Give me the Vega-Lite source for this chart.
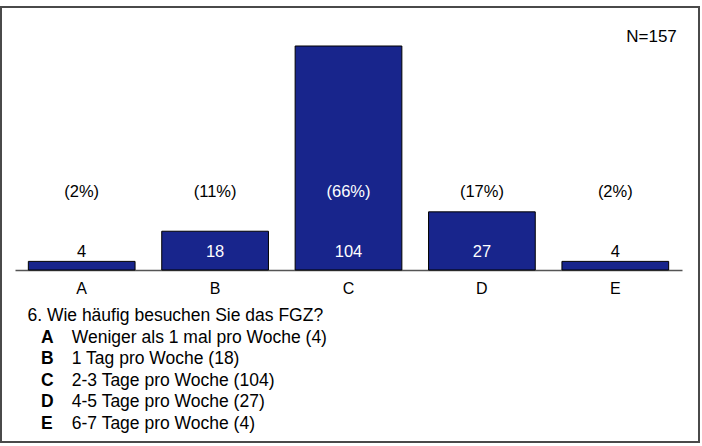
{
  "$schema": "https://vega.github.io/schema/vega-lite/v6.json",
  "width": 698,
  "height": 435,
  "autosize": {"type": "none"},
  "padding": {"left": 1, "top": 7, "right": 3, "bottom": 4},
  "background": "white",
  "config": {
    "view": {"stroke": "#4a4a4a", "strokeWidth": 2},
    "font": "Liberation Sans",
    "text": {"font": "Liberation Sans"}
  },
  "datasets": {
    "bars": [
      {"cat": "A", "count": 4, "pct": "(2%)"},
      {"cat": "B", "count": 18, "pct": "(11%)"},
      {"cat": "C", "count": 104, "pct": "(66%)"},
      {"cat": "D", "count": 27, "pct": "(17%)"},
      {"cat": "E", "count": 4, "pct": "(2%)"}
    ],
    "note": [{"text": "N=157"}],
    "question": [{"text": "6. Wie häufig besuchen Sie das FGZ?"}],
    "legend": [
      {"letter": "A", "desc": "Weniger als 1 mal pro Woche (4)"},
      {"letter": "B", "desc": "1 Tag pro Woche (18)"},
      {"letter": "C", "desc": "2-3 Tage pro Woche (104)"},
      {"letter": "D", "desc": "4-5 Tage pro Woche (27)"},
      {"letter": "E", "desc": "6-7 Tage pro Woche (4)"}
    ]
  },
  "layer": [
    {
      "data": {"name": "bars"},
      "layer": [
        {
          "mark": {"type": "bar", "fill": "#18258C", "stroke": "#000000", "strokeWidth": 1},
          "encoding": {
            "x": {
              "field": "cat",
              "type": "nominal",
              "sort": null,
              "scale": {"range": [14, 681], "paddingInner": 0.2, "paddingOuter": 0.1},
              "axis": {
                "title": null,
                "labelAngle": 0,
                "offset": -172,
                "domainColor": "#555555",
                "domainWidth": 1.5,
                "tickColor": "#222222",
                "tickSize": -4,
                "tickWidth": 1,
                "labelFontSize": 16,
                "labelColor": "#000000",
                "labelFont": "Liberation Sans",
                "labelPadding": 14
              }
            },
            "y": {
              "field": "count",
              "type": "quantitative",
              "scale": {"domain": [0, 104], "range": [263, 39], "nice": false, "zero": true},
              "axis": null
            }
          }
        },
        {
          "mark": {"type": "text", "fontSize": 16.5, "baseline": "middle"},
          "encoding": {
            "x": {"field": "cat", "type": "nominal"},
            "y": {"datum": 8.4, "type": "quantitative", "scale": {"domain": [0, 104], "range": [263, 39], "nice": false, "zero": true}},
            "text": {"field": "count"},
            "color": {"condition": {"test": "datum.count > 10", "value": "#ffffff"}, "value": "#000000"}
          }
        },
        {
          "mark": {"type": "text", "fontSize": 16.5, "baseline": "middle"},
          "encoding": {
            "x": {"field": "cat", "type": "nominal"},
            "y": {"datum": 36.2, "type": "quantitative", "scale": {"domain": [0, 104], "range": [263, 39], "nice": false, "zero": true}},
            "text": {"field": "pct"},
            "color": {"condition": {"test": "datum.count > 40", "value": "#ffffff"}, "value": "#000000"}
          }
        },
        {
          "data": {"name": "note"},
          "mark": {"type": "text", "fontSize": 17, "align": "right", "baseline": "middle", "dx": 61.5, "color": "#000000"},
          "encoding": {
            "x": {"datum": "E"},
            "y": {"datum": 100, "type": "quantitative", "scale": {"domain": [0, 104], "range": [263, 39], "nice": false, "zero": true}},
            "text": {"field": "text"},
            "yOffset": {"datum": 8.2, "type": "quantitative", "scale": {"domain": [0, 10], "range": [0, -21.54]}}
          }
        }
      ]
    },
    {
      "layer": [
        {
          "data": {"name": "question"},
          "mark": {"type": "text", "fontSize": 17.5, "align": "left", "baseline": "middle", "color": "#000000"},
          "encoding": {
            "x": {"datum": 26.5, "type": "quantitative", "scale": {"domain": [0, 698], "range": [0, 698]}, "axis": null},
            "y": {"datum": "Q", "type": "ordinal", "scale": {"type": "point", "domain": ["Q", "A", "B", "C", "D", "E"], "range": [309, 417], "padding": 0}, "axis": null},
            "text": {"field": "text"}
          }
        },
        {
          "data": {"name": "legend"},
          "mark": {"type": "text", "fontSize": 17.5, "fontWeight": "bold", "align": "left", "baseline": "middle", "color": "#000000"},
          "encoding": {
            "x": {"datum": 40, "type": "quantitative"},
            "y": {"field": "letter", "type": "ordinal"},
            "text": {"field": "letter"}
          }
        },
        {
          "data": {"name": "legend"},
          "mark": {"type": "text", "fontSize": 17.5, "align": "left", "baseline": "middle", "color": "#000000"},
          "encoding": {
            "x": {"datum": 71, "type": "quantitative"},
            "y": {"field": "letter", "type": "ordinal"},
            "text": {"field": "desc"}
          }
        }
      ]
    }
  ],
  "resolve": {"scale": {"x": "independent", "y": "independent"}}
}
